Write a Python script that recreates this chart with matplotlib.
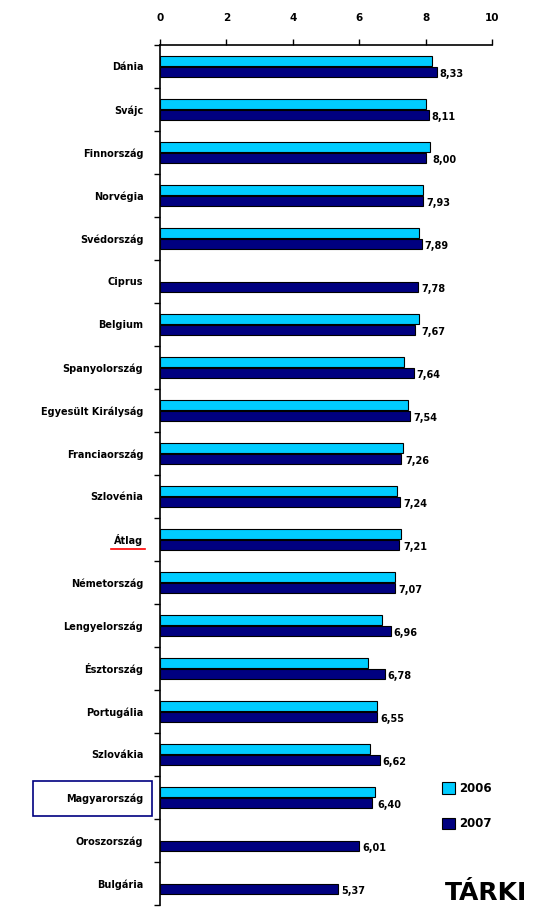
import matplotlib

matplotlib.use("Agg")
import matplotlib.pyplot as plt
import numpy as np
from matplotlib.patches import Rectangle

CYAN, NAVY = "#00CCFF", "#000080"

countries = ["Dánia", "Svájc", "Finnország", "Norvégia", "Svédország", "Ciprus",
             "Belgium", "Spanyolország", "Egyesült Királyság", "Franciaország",
             "Szlovénia", "Átlag", "Németország", "Lengyelország", "Észtország",
             "Portugália", "Szlovákia", "Magyarország", "Oroszország", "Bulgária"]
v2006 = [8.19, 8.00, 8.12, 7.93, 7.79, np.nan, 7.80, 7.35, 7.48, 7.31,
         7.14, 7.26, 7.09, 6.69, 6.28, 6.55, 6.34, 6.48, np.nan, np.nan]
v2007 = [8.33, 8.11, 8.00, 7.93, 7.89, 7.78, 7.67, 7.64, 7.54, 7.26,
         7.24, 7.21, 7.07, 6.96, 6.78, 6.55, 6.62, 6.40, 6.01, 5.37]
years = ["2006", "2007"]

fig = plt.figure(figsize=(5.46, 9.16), dpi=100)
ax = fig.add_axes([0.293, 0.012, 0.608, 0.939])

y = np.arange(len(countries))
h = 0.24
ax.barh(y - 0.13, v2006, height=h, color=CYAN, edgecolor="black", lw=0.8, label=years[0])
ax.barh(y + 0.13, v2007, height=h, color=NAVY, edgecolor="black", lw=0.8, label=years[1])

for i, (a, b) in enumerate(zip(v2006, v2007)):
    end = b if np.isnan(a) else max(a, b)
    ax.text(end + 0.08, i + 0.17, f"{b:.2f}".replace(".", ","), va="center", ha="left",
            fontsize=7, fontweight="bold")

ax.set_xlim(0, 10)
ax.set_ylim(len(countries) - 0.5, -0.5)
ax.xaxis.tick_top()
ax.set_xticks([0, 2, 4, 6, 8, 10])
ax.tick_params(axis="x", direction="out", length=4, width=1, labelsize=7.5, pad=12)
for t in ax.get_xticklabels():
    t.set_fontweight("bold")
ax.set_yticks(y)
ax.set_yticklabels(countries, fontsize=7, fontweight="bold")
ax.tick_params(axis="y", length=0, pad=12)
ax.set_yticks(np.arange(-0.5, len(countries), 1), minor=True)
ax.tick_params(axis="y", which="minor", direction="out", length=4, width=1)
for s in ["right", "bottom"]:
    ax.spines[s].set_visible(False)
ax.spines["left"].set_linewidth(1.2)
ax.spines["top"].set_linewidth(1.2)

# Átlag underlined, Magyarország boxed
fig.canvas.draw()
r = fig.canvas.get_renderer()
inv = fig.transFigure.inverted()
for t in ax.get_yticklabels():
    if t.get_text() == "Átlag":
        bb = t.get_window_extent(r).transformed(inv)
        fig.add_artist(plt.Line2D([bb.x0 - 0.005, bb.x1 + 0.003], [bb.y0 - 0.003, bb.y0 - 0.003],
                                  color="red", lw=1.2, transform=fig.transFigure))
    if t.get_text() == "Magyarország":
        bb = t.get_window_extent(r).transformed(inv)
        fig.add_artist(Rectangle((bb.x0 - 0.06, bb.y0 - 0.013), bb.width + 0.075, bb.height + 0.026,
                                 fill=False, edgecolor=NAVY, lw=1.2, transform=fig.transFigure))

leg = fig.legend(loc="upper left", bbox_to_anchor=(0.79, 0.158), frameon=False,
                 prop={"size": 8.5, "weight": "bold"}, handlelength=1.1, handleheight=1.1,
                 labelspacing=1.9, handletextpad=0.35)
for p in leg.get_patches():
    p.set_edgecolor("black")

fig.text(0.815, 0.025, "TÁRKI", fontsize=18, fontweight="bold", ha="left", va="center")

fig.savefig("out.png", dpi=100)
